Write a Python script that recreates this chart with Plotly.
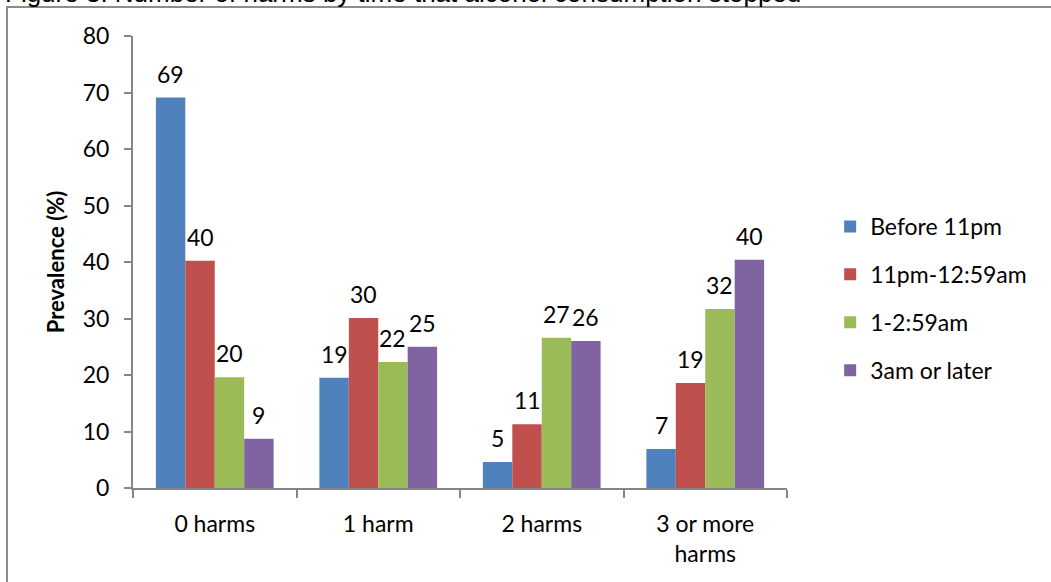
import plotly.graph_objects as go

categories = ["0 harms", "1 harm", "2 harms", "3 or more<br>harms"]
series_names = ["Before 11pm", "11pm-12:59am", "1-2:59am", "3am or later"]
before_11pm = [69.1, 19.5, 4.6, 6.9]
pm11_1259am = [40.2, 30.1, 11.3, 18.6]
am1_259 = [19.6, 22.3, 26.6, 31.7]
am3_later = [8.7, 25.0, 26.0, 40.4]
labels_before_11pm = ["69", "19", "5", "7"]
labels_pm11_1259am = ["40", "30", "11", "19"]
labels_am1_259 = ["20", "22", "27", "32"]
labels_am3_later = ["9", "25", "26", "40"]
colors = ["#4F81BD", "#C0504D", "#9BBB59", "#8064A2"]
y_ticks = [0, 10, 20, 30, 40, 50, 60, 70, 80]

series = [before_11pm, pm11_1259am, am1_259, am3_later]
labels = [labels_before_11pm, labels_pm11_1259am, labels_am1_259, labels_am3_later]
FONT = "Lato"
FS = 23
W, H = 1051, 582
L, R, T, B = 133, 1051 - 787, 36, 94
bargap = 0.28

fig = go.Figure()
for i, (name, vals) in enumerate(zip(series_names, series)):
    fig.add_trace(go.Bar(
        x=categories, y=vals, name=name,
        marker=dict(color=colors[i], line=dict(width=0)),
        legendgroup=name,
    ))

nser = len(series)
w = (1 - bargap) / nser
annotations = []
for i, vals in enumerate(series):
    for ci, v in enumerate(vals):
        annotations.append(dict(
            x=ci + (i - (nser - 1) / 2) * w, y=v, xref="x", yref="y",
            text=labels[i][ci], showarrow=False, yanchor="bottom",
            yshift=8, font=dict(family=FONT, size=FS, color="black"),
        ))

annotations.append(dict(
    x=(3 - 133) / 654, y=(488 - 10) / 452, xref="paper", yref="paper",
    text="Figure 3: Number of harms by time that alcohol consumption stopped",
    showarrow=False, xanchor="left", yanchor="bottom",
    font=dict(family="Liberation Sans", size=26, color="black"),
))

fig.update_layout(
    width=W, height=H,
    margin=dict(l=L, r=R, t=T, b=B, autoexpand=False),
    paper_bgcolor="white", plot_bgcolor="white",
    barmode="group", bargap=bargap, bargroupgap=0,
    font=dict(family=FONT, size=FS, color="black"),
    showlegend=True,
    legend=dict(
        x=1.066, y=(488 - 205) / 452, xanchor="left", yanchor="top",
        traceorder="grouped", tracegroupgap=15,
        font=dict(family=FONT, size=FS, color="black"),
        itemwidth=30, bgcolor="rgba(0,0,0,0)",
    ),
    annotations=annotations,
    shapes=[dict(
        type="rect", xref="paper", yref="paper",
        x0=(7 - 133) / 654, x1=1.6, y0=-0.5, y1=(488 - 7) / 452,
        line=dict(color="#8c8c8c", width=2), fillcolor="rgba(0,0,0,0)", layer="below",
    )],
    xaxis=dict(
        type="category", showgrid=False, showline=True, linecolor="#868686", linewidth=2,
        ticks="outside", tickson="boundaries", ticklen=8, tickcolor="#868686", tickwidth=2,
        ticklabelstandoff=14,
        tickfont=dict(family=FONT, size=FS, color="black"), fixedrange=True,
    ),
    yaxis=dict(
        range=[0, 80], tickvals=y_ticks, showgrid=False, zeroline=False,
        showline=True, linecolor="#868686", linewidth=2,
        ticks="outside", ticklen=7, tickcolor="#868686", tickwidth=2,
        ticklabelstandoff=10,
        tickfont=dict(family=FONT, size=FS, color="black"),
        title=dict(text="<b>Prevalence (%)</b>", font=dict(family=FONT, size=FS - 1, color="black"), standoff=12),
    ),
)

fig.write_html("out.html")
